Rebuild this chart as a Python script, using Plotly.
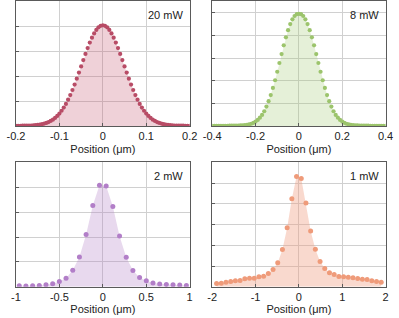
import plotly.graph_objects as go

# ---------------- data ----------------
x_20mw = [-0.200,-0.195,-0.190,-0.185,-0.180,-0.175,-0.170,-0.165,-0.160,-0.155,
          -0.150,-0.145,-0.140,-0.135,-0.130,-0.125,-0.120,-0.115,-0.110,-0.105,
          -0.100,-0.095,-0.090,-0.085,-0.080,-0.075,-0.070,-0.065,-0.060,-0.055,
          -0.050,-0.045,-0.040,-0.035,-0.030,-0.025,-0.020,-0.015,-0.010,-0.005,
          0.000,
          0.005,0.010,0.015,0.020,0.025,0.030,0.035,0.040,0.045,0.050,
          0.055,0.060,0.065,0.070,0.075,0.080,0.085,0.090,0.095,0.100,
          0.105,0.110,0.115,0.120,0.125,0.130,0.135,0.140,0.145,0.150,
          0.155,0.160,0.165,0.170,0.175,0.180,0.185,0.190,0.195,0.200]
y_20mw = [0.003,0.003,0.003,0.004,0.004,0.005,0.005,0.006,0.008,0.009,
          0.012,0.015,0.019,0.025,0.032,0.040,0.052,0.065,0.082,0.102,
          0.126,0.154,0.186,0.223,0.265,0.311,0.362,0.417,0.476,0.537,
          0.599,0.662,0.724,0.783,0.838,0.887,0.930,0.965,0.991,1.006,
          1.012,
          1.006,0.991,0.965,0.930,0.887,0.838,0.783,0.724,0.662,0.599,
          0.537,0.476,0.417,0.362,0.311,0.265,0.223,0.186,0.154,0.126,
          0.102,0.082,0.065,0.052,0.040,0.032,0.025,0.019,0.015,0.012,
          0.009,0.008,0.006,0.005,0.005,0.004,0.004,0.003,0.003,0.003]

x_8mw = [-0.40,-0.39,-0.38,-0.37,-0.36,-0.35,-0.34,-0.33,-0.32,-0.31,
         -0.30,-0.29,-0.28,-0.27,-0.26,-0.25,-0.24,-0.23,-0.22,-0.21,
         -0.20,-0.19,-0.18,-0.17,-0.16,-0.15,-0.14,-0.13,-0.12,-0.11,
         -0.10,-0.09,-0.08,-0.07,-0.06,-0.05,-0.04,-0.03,-0.02,-0.01,
         0.00,
         0.01,0.02,0.03,0.04,0.05,0.06,0.07,0.08,0.09,0.10,
         0.11,0.12,0.13,0.14,0.15,0.16,0.17,0.18,0.19,0.20,
         0.21,0.22,0.23,0.24,0.25,0.26,0.27,0.28,0.29,0.30,
         0.31,0.32,0.33,0.34,0.35,0.36,0.37,0.38,0.39,0.40]
y_8mw = [0.003,0.003,0.003,0.003,0.003,0.003,0.003,0.003,0.004,0.004,
         0.004,0.005,0.005,0.006,0.007,0.009,0.011,0.015,0.021,0.029,
         0.040,0.055,0.074,0.099,0.131,0.172,0.220,0.274,0.337,0.405,
         0.480,0.557,0.636,0.713,0.784,0.847,0.901,0.943,0.972,0.988,
         0.990,
         0.988,0.972,0.943,0.901,0.847,0.784,0.713,0.636,0.557,0.480,
         0.405,0.337,0.274,0.220,0.172,0.131,0.099,0.074,0.055,0.040,
         0.029,0.021,0.015,0.011,0.009,0.007,0.006,0.005,0.005,0.004,
         0.004,0.004,0.003,0.003,0.003,0.003,0.003,0.003,0.003,0.003]

x_2mw = [-0.9625,-0.8855,-0.8085,-0.7315,-0.6545,-0.5775,-0.5005,-0.4235,-0.3465,
         -0.2695,-0.1925,-0.1155,-0.0385,0.0385,0.1155,0.1925,0.2695,0.3465,
         0.4235,0.5005,0.5775,0.6545,0.7315,0.8085,0.8855,0.9625]
y_2mw = [0.010,0.007,0.010,0.013,0.020,0.030,0.053,0.087,0.167,
         0.300,0.527,0.817,1.020,1.013,0.807,0.510,0.297,0.163,
         0.093,0.060,0.037,0.027,0.023,0.020,0.017,0.013]

x_1mw = [-1.9000,-1.7914,-1.6829,-1.5743,-1.4657,-1.3571,-1.2486,-1.1400,-1.0314,
         -0.9229,-0.8143,-0.7057,-0.5971,-0.4886,-0.3800,-0.2714,-0.1629,-0.0543,
         0.0543,0.1629,0.2714,0.3800,0.4886,0.5971,0.7057,0.8143,0.9229,
         1.0314,1.1400,1.2486,1.3571,1.4657,1.5743,1.6829,1.7914,1.9000]
y_1mw = [0.032,0.035,0.045,0.051,0.058,0.061,0.077,0.083,0.083,
         0.096,0.103,0.128,0.167,0.231,0.359,0.571,0.850,1.065,
         1.046,0.808,0.539,0.362,0.244,0.176,0.135,0.119,0.099,
         0.096,0.093,0.087,0.080,0.074,0.071,0.058,0.051,0.045]

labels = ["20 mW", "8 mW", "2 mW", "1 mW"]
x_ticks = [[-0.2, -0.1, 0, 0.1, 0.2],
           [-0.4, -0.2, 0, 0.2, 0.4],
           [-1, -0.5, 0, 0.5, 1],
           [-2, -1, 0, 1, 2]]
x_ticktext = [["-0.2", "-0.1", "0", "0.1", "0.2"],
              ["-0.4", "-0.2", "0", "0.2", "0.4"],
              ["-1", "-0.5", "0", "0.5", "1"],
              ["-2", "-1", "0", "1", "2"]]
y_tops = [1.25, 1.1, 1.25, 1.2]
y_dticks = [0.25, 0.2, 0.25, 0.2]

# ---------------- style ----------------
marker_colors = ["#b84c66", "#9cc46c", "#b27ec8", "#ef9b7a"]
fill_colors = ["rgba(196,90,115,0.28)", "rgba(160,200,115,0.28)",
               "rgba(180,130,200,0.30)", "rgba(240,155,125,0.38)"]
marker_sizes = [4.2, 4.2, 5, 5]

W, H = 399, 318
x_doms = [[7.3 / W, 188.7 / W], [212.3 / W, 393.3 / W],
          [7.3 / W, 188.7 / W], [212.3 / W, 393.3 / W]]
y_doms = [[1 - 125.5 / H, 1 - 0.5 / H], [1 - 125.5 / H, 1 - 0.5 / H],
          [1 - 286.7 / H, 1 - 162 / H], [1 - 286.7 / H, 1 - 162 / H]]

series = [(x_20mw, y_20mw), (x_8mw, y_8mw), (x_2mw, y_2mw), (x_1mw, y_1mw)]

FONT = "Liberation Sans, Arial, sans-serif"
fig = go.Figure()
layout = {}
annotations = []
for i, (xs, ys) in enumerate(series):
    sfx = "" if i == 0 else str(i + 1)
    xa, ya = "x" + sfx, "y" + sfx
    fig.add_trace(go.Scatter(x=xs, y=ys, mode="lines", line=dict(width=0, color=fill_colors[i]),
                             fill="tozeroy", fillcolor=fill_colors[i], hoverinfo="skip",
                             showlegend=False, xaxis=xa, yaxis=ya))
    fig.add_trace(go.Scatter(x=xs, y=ys, mode="markers",
                             marker=dict(size=marker_sizes[i], color=marker_colors[i], line=dict(width=0)),
                             showlegend=False, xaxis=xa, yaxis=ya))
    layout["xaxis" + sfx] = dict(
        domain=x_doms[i], anchor=ya, range=[x_ticks[i][0], x_ticks[i][-1]],
        tickvals=x_ticks[i], ticktext=x_ticktext[i],
        showgrid=True, gridcolor="#d0d0d0", gridwidth=1, zeroline=False,
        showline=True, linecolor="#5a5a5a", linewidth=1, mirror=True,
        ticks="inside", ticklen=3, tickcolor="#5a5a5a", ticklabelstandoff=0,
        tickfont=dict(size=11, color="#222", family=FONT),
        title=dict(text="Position (μm)", font=dict(size=11, color="#222", family=FONT), standoff=3),
    )
    layout["yaxis" + sfx] = dict(
        domain=y_doms[i], anchor=xa, range=[0, y_tops[i]], dtick=y_dticks[i], tick0=0,
        showticklabels=False, showgrid=True, gridcolor="#d0d0d0", gridwidth=1, zeroline=False,
        showline=True, linecolor="#5a5a5a", linewidth=1, mirror=True,
        ticks="inside", ticklen=3, tickcolor="#5a5a5a",
    )
    annotations.append(dict(text=labels[i], xref=xa + " domain", yref=ya + " domain",
                            x=1, y=1, xanchor="right", yanchor="top", xshift=-5, yshift=-6,
                            showarrow=False, font=dict(size=11, color="#222", family=FONT)))

fig.update_layout(**layout)
fig.update_layout(width=W, height=H, margin=dict(l=0, r=0, t=0, b=0),
                  paper_bgcolor="white", plot_bgcolor="white",
                  annotations=annotations, font=dict(family=FONT))
fig.write_html("out.html", config={"displayModeBar": False},
               post_script="document.body.style.margin='0px';document.body.style.overflow='hidden';")
